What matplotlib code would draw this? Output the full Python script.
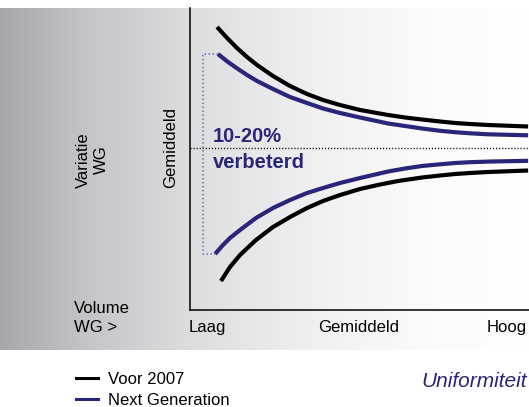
import numpy as np
import matplotlib
matplotlib.use("Agg")
import matplotlib.pyplot as plt
from matplotlib.lines import Line2D
from matplotlib.transforms import ScaledTranslation

plt.rcParams['font.family'] = ['Liberation Sans', 'DejaVu Sans']

# ---- data ----
categories = ['Laag', 'Gemiddeld', 'Hoog']
cat_pos = [1, 2, 3]

x_voor_upper = [1.066, 1.132, 1.197, 1.263, 1.329, 1.434, 1.546, 1.658, 1.763, 1.875, 2.007,
                2.191, 2.303, 2.414, 2.533, 2.632, 2.730, 2.849, 3.112]
y_voor_upper = [121, 110, 100, 91, 83, 72, 62, 54, 48, 43, 38, 33, 30.5, 28.5, 26.5, 25, 24,
                23, 21.5]

x_next_upper = [1.072, 1.138, 1.204, 1.263, 1.329, 1.434, 1.546, 1.658, 1.763, 1.875, 2.007,
                2.191, 2.303, 2.414, 2.533, 2.632, 2.730, 2.849, 3.112]
y_next_upper = [94, 86, 79, 73, 67, 59, 51, 45, 39.5, 35, 30.5, 24.5, 22, 19.5, 17.2, 15.8,
                14.7, 13.7, 12.7]

x_next_lower = [1.053, 1.099, 1.151, 1.217, 1.322, 1.434, 1.546, 1.658, 1.763, 1.875, 2.007,
                2.191, 2.303, 2.414, 2.533, 2.632, 2.730, 2.849, 3.112]
y_next_lower = [-106, -98, -90, -82, -70, -60, -52, -45, -40, -35, -30, -23.5, -20.5, -18,
                -16.3, -15, -14.2, -13.6, -12.8]

x_voor_lower = [1.092, 1.151, 1.217, 1.322, 1.434, 1.546, 1.658, 1.763, 1.875, 2.007, 2.138,
                2.257, 2.414, 2.533, 2.632, 2.730, 2.849, 3.112]
y_voor_lower = [-133, -119, -107, -92, -79, -69, -60, -53, -47, -41, -36.5, -33, -29.5, -27.5,
                -26, -25, -24, -22.5]

bracket_x = 0.975
series_labels = ['Voor 2007', 'Next Generation']
annot_text = ['10-20%', 'verbeterd']

NAVY = '#29267a'
LIGHT = '#7b79bd'

W, H = 529, 407
fig = plt.figure(figsize=(W / 100, H / 100), dpi=100)

# background gradient (grey -> white)
bg = fig.add_axes([0, (H - 350) / H, 1, 342 / H])
xs = np.arange(W)
stops_x = [0, 80, 190, 265, 340, 440, 529]
stops_r = [166, 194, 220, 232, 242, 251, 253]
stops_b = [171, 198, 223, 234, 243, 251, 253]
r = np.interp(xs, stops_x, stops_r)
g = r + 1
b = np.interp(xs, stops_x, stops_b)
img = np.clip(np.stack([r, g, b], axis=-1)[None, :, :] / 255.0, 0, 1)
bg.imshow(img, aspect='auto', extent=[0, 1, 0, 1])
bg.axis('off')

ax = fig.add_axes([190 / W, (H - 310) / H, 339 / W, 302 / H])
ax.patch.set_alpha(0)
ax.set_xlim(0.888, 3.118)
ax.set_ylim(-162, 140)

kw = dict(lw=3, solid_capstyle='butt', solid_joinstyle='round')
ax.plot(x_voor_upper, y_voor_upper, color='black', **kw)
ax.plot(x_voor_lower, y_voor_lower, color='black', **kw)
ax.plot(x_next_upper, y_next_upper, color=NAVY, **kw)
ax.plot(x_next_lower, y_next_lower, color=NAVY, **kw)

# middle dotted line
ax.axhline(0, color='black', lw=1.0, ls=(0, (0.8, 1.4)))

# dotted bracket
ax.plot([x_next_upper[0], bracket_x, bracket_x, x_next_lower[0]],
        [y_next_upper[0], y_next_upper[0], y_next_lower[0], y_next_lower[0]],
        color=LIGHT, lw=1.3, ls=(0, (0.8, 1.4)))

for s in ['top', 'right']:
    ax.spines[s].set_visible(False)
for s in ['left', 'bottom']:
    ax.spines[s].set_linewidth(1.1)
ax.set_yticks([])
ax.set_xticks(cat_pos)
ax.set_xticklabels(categories, fontsize=12)
ax.tick_params(axis='x', length=0, pad=7)
last = ax.get_xticklabels()[-1]
last.set_transform(last.get_transform() + ScaledTranslation(-0.04, 0, fig.dpi_scale_trans))

# texts
fig.text(171 / W, 1 - 147 / H, 'Gemiddeld', rotation=90, ha='center', va='center', fontsize=12)
fig.text(92 / W, 1 - 160 / H, 'Variatie\nWG', rotation=90, ha='center', va='center',
         fontsize=12, multialignment='center', linespacing=1.25)
fig.text(74 / W, 1 - 318 / H, 'Volume\nWG >', ha='left', va='center', fontsize=12, linespacing=1.3)
fig.text(213 / W, 1 - 142 / H, annot_text[0], ha='left', va='baseline', fontsize=14.5,
         fontweight='bold', color=NAVY)
fig.text(213 / W, 1 - 168 / H, annot_text[1], ha='left', va='baseline', fontsize=14.5,
         fontweight='bold', color=NAVY)
fig.text(421 / W, 1 - 387 / H, 'Uniformiteit', ha='left', va='baseline', fontsize=15,
         style='italic', color=NAVY)

handles = [Line2D([], [], color='black', lw=2.2), Line2D([], [], color=NAVY, lw=2.2)]
fig.legend(handles, series_labels, loc='upper left', bbox_to_anchor=(76 / W, 1 - 372 / H),
           bbox_transform=fig.transFigure, frameon=False, fontsize=12, handlelength=1.3,
           handletextpad=0.65, labelspacing=0.37, borderpad=0, borderaxespad=0)

fig.savefig('out.png', dpi=100)
